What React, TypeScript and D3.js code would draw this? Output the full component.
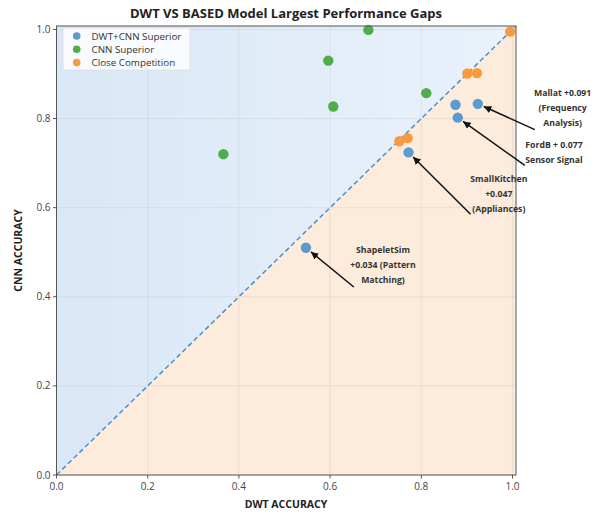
import React from "react";
import * as d3 from "d3";

const dwtCnnDwt = [0.547, 0.772, 0.875, 0.88, 0.924];
const dwtCnnCnn = [0.51, 0.724, 0.831, 0.802, 0.833];
const cnnSupDwt = [0.366, 0.596, 0.607, 0.684, 0.811];
const cnnSupCnn = [0.72, 0.93, 0.827, 0.999, 0.857];
const closeDwt = [0.752, 0.77, 0.901, 0.922, 0.995];
const closeCnn = [0.749, 0.756, 0.901, 0.902, 0.995];
const ticks = [0, 0.2, 0.4, 0.6, 0.8, 1.0];
const seriesNames = ["DWT+CNN Superior", "CNN Superior", "Close Competition"];
const seriesColors = ["#5b9bd0", "#4fae4a", "#fb9a3c"];

const annLines = [
  ["Mallat +0.091", "(Frequency", "Analysis)"],
  ["FordB + 0.077", "Sensor Signal"],
  ["SmallKitchen", "+0.047", "(Appliances)"],
  ["ShapeletSim", "+0.034 (Pattern", "Matching)"],
];
const annPoint = [
  [0.924, 0.833],
  [0.88, 0.802],
  [0.772, 0.724],
  [0.547, 0.51],
];
const annText = [
  [1.11, 0.824],
  [1.091, 0.723],
  [0.97, 0.63],
  [0.716, 0.471],
];
const annTail = [
  [1.049, 0.775],
  [1.027, 0.695],
  [0.908, 0.585],
  [0.652, 0.422],
];

const W = 604;
const H = 515;
const L = 56.5;
const R = 516;
const T = 26;
const B = 475;
const DMAX = 1.0077;

export default function App() {
  const x = d3.scaleLinear().domain([0, DMAX]).range([L, R]);
  const y = d3.scaleLinear().domain([0, DMAX]).range([B, T]);
  const font = "'Open Sans', 'DejaVu Sans', sans-serif";
  const series = [
    { d: dwtCnnDwt, c: dwtCnnCnn },
    { d: cnnSupDwt, c: cnnSupCnn },
    { d: closeDwt, c: closeCnn },
  ];
  const upper = `M${x(0)},${y(0)}L${x(0)},${y(DMAX)}L${x(DMAX)},${y(DMAX)}Z`;
  const lower = `M${x(0)},${y(0)}L${x(DMAX)},${y(0)}L${x(DMAX)},${y(DMAX)}Z`;
  const lineH = 14.8;
  return (
    <svg width={W} height={H} style={{ position: "absolute", left: 0, top: 0, background: "#fff" }}>
      <defs>
        <marker id="ah" viewBox="0 0 10 10" refX="10" refY="5" markerWidth="7.5" markerHeight="7.5" orient="auto-start-reverse" markerUnits="userSpaceOnUse">
          <path d="M0,0L10,5L0,10Z" fill="#111" />
        </marker>
        <linearGradient id="bg1" x1="0" y1="0" x2="1" y2="0">
          <stop offset="0" stopColor="#d9e7f6" />
          <stop offset="1" stopColor="#eaf2fb" />
        </linearGradient>
      </defs>
      <text x={286} y={18} textAnchor="middle" fontFamily={font} fontWeight="bold" fontSize={13} fill="#222">
        DWT VS BASED Model Largest Performance Gaps
      </text>
      <path d={upper} fill="url(#bg1)" />
      <path d={lower} fill="#fdebdc" />
      {ticks.map((t) => (
        <g key={"g" + t}>
          <line x1={x(t)} x2={x(t)} y1={T} y2={B} stroke="#bbb" strokeOpacity={0.35} strokeWidth={0.8} />
          <line x1={L} x2={R} y1={y(t)} y2={y(t)} stroke="#bbb" strokeOpacity={0.35} strokeWidth={0.8} />
        </g>
      ))}
      <line x1={x(0)} y1={y(0)} x2={x(DMAX)} y2={y(DMAX)} stroke="#4a8fd0" strokeWidth={1.5} strokeDasharray="5,3" />
      {series.map((s, i) =>
        s.d.map((v, j) => (
          <circle key={i + "-" + j} cx={x(v)} cy={y(s.c[j])} r={5.2} fill={seriesColors[i]} />
        ))
      )}
      <rect x={L} y={T} width={R - L} height={B - T} fill="none" stroke="#555" strokeWidth={1} />
      {ticks.map((t) => (
        <g key={"t" + t}>
          <line x1={x(t)} x2={x(t)} y1={B} y2={B + 3.5} stroke="#555" />
          <text x={x(t)} y={B + 15} textAnchor="middle" fontFamily={font} fontSize={10} fill="#444">
            {t.toFixed(1)}
          </text>
          <line x1={L - 3.5} x2={L} y1={y(t)} y2={y(t)} stroke="#555" />
          <text x={L - 6} y={y(t) + 3.5} textAnchor="end" fontFamily={font} fontSize={10} fill="#444">
            {t.toFixed(1)}
          </text>
        </g>
      ))}
      <text x={286} y={508} textAnchor="middle" fontFamily={font} fontWeight="bold" fontSize={10.5} fill="#222">
        DWT ACCURACY
      </text>
      <text transform={`translate(22,${(T + B) / 2}) rotate(-90)`} textAnchor="middle" fontFamily={font} fontWeight="bold" fontSize={10.5} fill="#222">
        CNN ACCURACY
      </text>
      <g>
        <rect x={63} y={28} width={127} height={42} rx={2} fill="#fff" fillOpacity={0.8} stroke="#ddd" strokeWidth={0.8} />
        {seriesNames.map((n, i) => (
          <g key={n}>
            <circle cx={76.7} cy={36 + i * 13.3} r={3.8} fill={seriesColors[i]} />
            <text x={91.5} y={39.5 + i * 13.3} fontFamily={font} fontSize={9.8} fill="#333">
              {n}
            </text>
          </g>
        ))}
      </g>
      {annLines.map((lines, i) => {
        const px = x(annPoint[i][0]);
        const py = y(annPoint[i][1]);
        const tx = x(annTail[i][0]);
        const ty = y(annTail[i][1]);
        const dx = tx - px;
        const dy = ty - py;
        const len = Math.hypot(dx, dy);
        const hx = px + (dx / len) * 6.5;
        const hy = py + (dy / len) * 6.5;
        const cx = x(annText[i][0]);
        const cy = y(annText[i][1]);
        const top = cy - ((lines.length - 1) * lineH) / 2;
        return (
          <g key={"a" + i}>
            <line x1={tx} y1={ty} x2={hx} y2={hy} stroke="#111" strokeWidth={1.5} markerEnd="url(#ah)" />
            {lines.map((ln, k) => (
              <text key={k} x={cx} y={top + k * lineH + 3} textAnchor="middle" fontFamily={font} fontWeight="bold" fontSize={8.7} fill="#333">
                {ln}
              </text>
            ))}
          </g>
        );
      })}
    </svg>
  );
}
